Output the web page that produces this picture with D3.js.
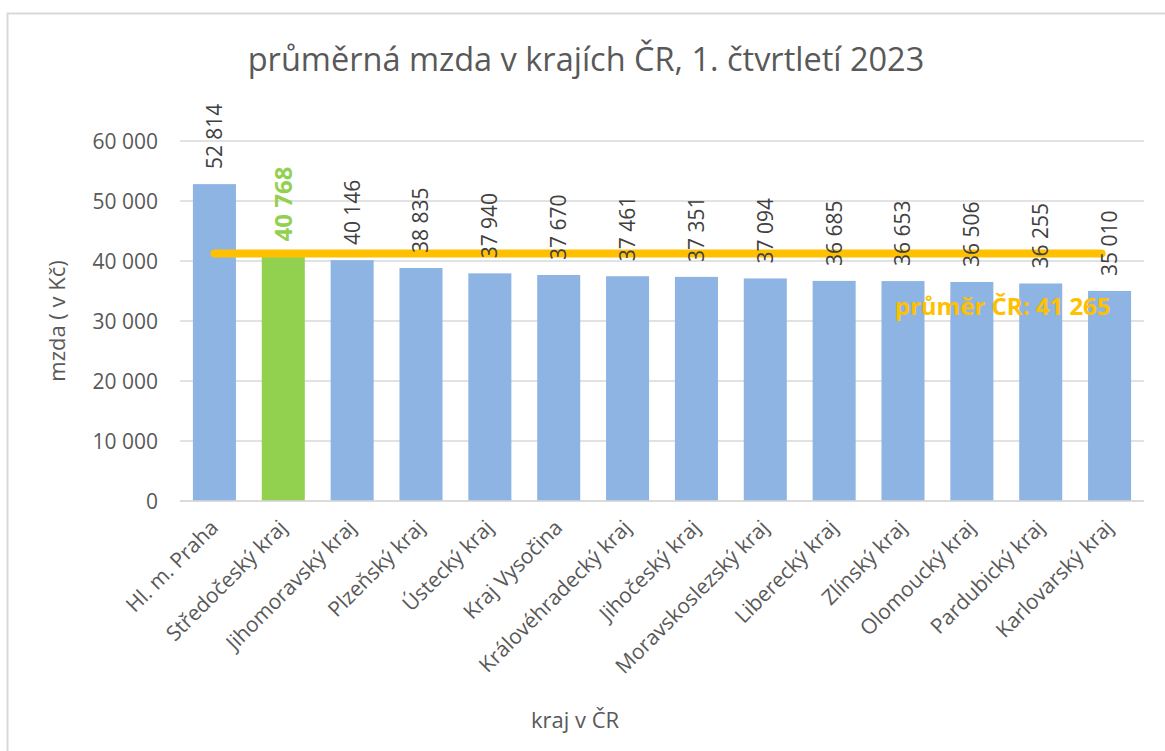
<!DOCTYPE html>
<html><head><meta charset="utf-8">
<script src="https://cdn.jsdelivr.net/npm/d3@7"></script>
<style>body{margin:0;background:#fff;} svg{display:block;font-family:"Open Sans",sans-serif;}</style>
</head><body>
<svg id="c" width="1165" height="751"></svg>
<script>
const categories = ["Hl. m. Praha","Středočeský kraj","Jihomoravský kraj","Plzeňský kraj","Ústecký kraj","Kraj Vysočina","Královéhradecký kraj","Jihočeský kraj","Moravskoslezský kraj","Liberecký kraj","Zlínský kraj","Olomoucký kraj","Pardubický kraj","Karlovarský kraj"];
const values = [52814,40768,40146,38835,37940,37670,37461,37351,37094,36685,36653,36506,36255,35010];
const highlighted = ["Středočeský kraj"];
const average = 41265;
const yTicks = [0,10000,20000,30000,40000,50000,60000];
const title = "průměrná mzda v krajích ČR, 1. čtvrtletí 2023";
const yTitle = "mzda ( v Kč)";
const xTitle = "kraj v ČR";
const avgLabel = "průměr ČR: 41 265";

const fmt = v => d3.format(",")(v).replace(/,/g, " ");
const svg = d3.select("#c");
const m = {left:180, right:1144, top:141, bottom:501};

svg.append("rect").attr("x",7.5).attr("y",13.5).attr("width",1200).attr("height",800)
  .attr("fill","#fff").attr("stroke","#d9d9d9").attr("stroke-width",2);

const x = d3.scaleBand().domain(categories).range([m.left,m.right]).paddingInner(0.375).paddingOuter(0.1875);
const y = d3.scaleLinear().domain([0,60000]).range([m.bottom,m.top]);

// gridlines
svg.append("g").selectAll("line").data(yTicks).join("line")
  .attr("x1",m.left).attr("x2",m.right).attr("y1",d=>y(d)).attr("y2",d=>y(d))
  .attr("stroke","#d9d9d9").attr("stroke-width",1.5);

// y axis labels
const ya = svg.append("g").attr("transform",`translate(${m.left-22},0)`)
  .call(d3.axisLeft(y).tickValues(yTicks).tickFormat(fmt).tickSize(0).tickPadding(0));
ya.select(".domain").remove();
ya.selectAll("text").attr("font-size",21).attr("fill","#595959").attr("font-family","Open Sans").attr("dy","0.35em");

// bars
svg.append("g").selectAll("rect").data(values).join("rect")
  .attr("x",(d,i)=>x(categories[i])).attr("width",x.bandwidth())
  .attr("y",d=>y(d)).attr("height",d=>y(0)-y(d))
  .attr("fill",(d,i)=>highlighted.includes(categories[i])?"#92d050":"#8eb4e3");

// average line
const c0 = x(categories[0])+x.bandwidth()/2, c1 = x(categories[categories.length-1])+x.bandwidth()/2;
svg.append("line").attr("x1",c0).attr("x2",c1-8).attr("y1",y(average)).attr("y2",y(average))
  .attr("stroke","#ffc000").attr("stroke-width",8).attr("stroke-linecap","round");
svg.append("text").attr("x",c1+1).attr("y",y(average)+62).attr("text-anchor","end")
  .attr("font-size",24).attr("font-weight","bold").attr("fill","#ffc000").text(avgLabel);

// value labels
svg.append("g").selectAll("text").data(values).join("text")
  .attr("transform",(d,i)=>`translate(${x(categories[i])+x.bandwidth()/2},${y(d)-15}) rotate(-90)`)
  .attr("dy","0.35em").attr("text-anchor","start")
  .attr("font-size",(d,i)=>highlighted.includes(categories[i])?24:21)
  .attr("font-weight",(d,i)=>highlighted.includes(categories[i])?"bold":"normal")
  .attr("fill",(d,i)=>highlighted.includes(categories[i])?"#92d050":"#404040")
  .text(d=>fmt(d));

// x axis baseline
svg.append("line").attr("x1",m.left).attr("x2",m.right).attr("y1",y(0)).attr("y2",y(0))
  .attr("stroke","#d9d9d9").attr("stroke-width",1.5);

// x labels
svg.append("g").selectAll("text").data(categories).join("text")
  .attr("transform",d=>`translate(${x(d)+x.bandwidth()/2+5},${y(0)+28}) rotate(-45)`)
  .attr("text-anchor","end").attr("font-size",21).attr("fill","#595959").text(d=>d);

// titles
svg.append("text").attr("x",586).attr("y",71).attr("text-anchor","middle")
  .attr("font-size",32.5).attr("fill","#595959").text(title);
svg.append("text").attr("transform",`translate(65,321) rotate(-90)`).attr("text-anchor","middle")
  .attr("font-size",22).attr("fill","#595959").text(yTitle);
svg.append("text").attr("x",575).attr("y",728).attr("text-anchor","middle")
  .attr("font-size",22).attr("fill","#595959").text(xTitle);
</script>
</body></html>
